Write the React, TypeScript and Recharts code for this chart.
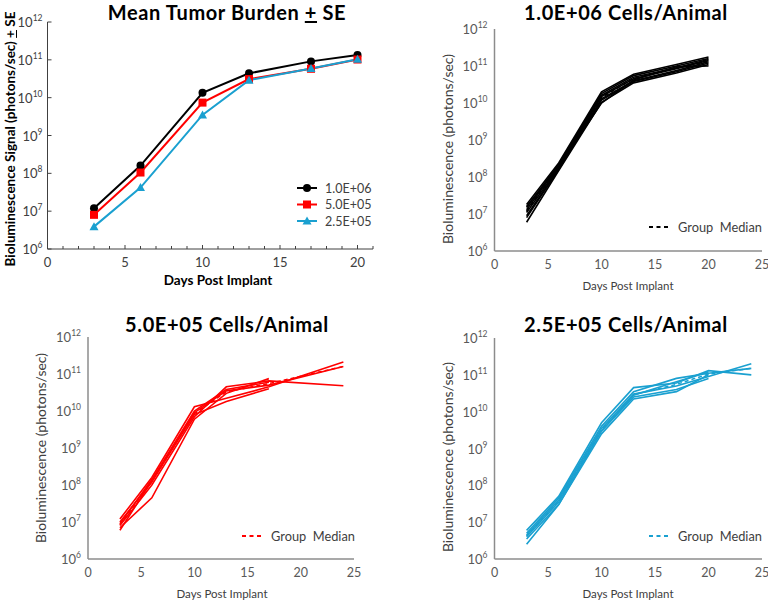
import React from 'react';
import { LineChart, Line, XAxis, YAxis, Legend } from 'recharts';

// mean tumor burden per dose group
const meanDays = [3, 6, 10, 13, 17, 20];
const mean1e6 = [1.2e7, 1.6e8, 1.35e10, 4.4e10, 9.1e10, 1.35e11];
const mean5e5 = [8.0e6, 1.05e8, 7.4e9, 3.1e10, 5.8e10, 1.02e11];
const mean25e4 = [3.9e6, 4.2e7, 3.5e9, 2.9e10, 5.9e10, 1.03e11];
const doseLabels = ['1.0E+06', '5.0E+05', '2.5E+05'];

// 1.0E+06 cells/animal, individual animals
const daysHigh = [3, 6, 10, 13, 17, 20];
const animalsHigh = [
  [1.8e7, 2.4e8, 2.0e10, 6.0e10, 1.1e11, 1.75e11],
  [1.5e7, 2.2e8, 1.8e10, 5.5e10, 1.0e11, 1.6e11],
  [1.3e7, 2.0e8, 1.6e10, 5.0e10, 9.0e10, 1.5e11],
  [1.1e7, 1.8e8, 1.5e10, 4.5e10, 8.5e10, 1.4e11],
  [9.0e6, 1.7e8, 1.3e10, 4.0e10, 7.5e10, 1.3e11],
  [8.0e6, 1.6e8, 1.2e10, 3.8e10, 7.0e10, 1.2e11],
  [6.0e6, 1.5e8, 1.05e10, 3.5e10, 6.5e10, 1.1e11],
  [1.6e7, 1.9e8, 1.0e10, 4.2e10, 9.5e10, 1.0e11],
];
const medianHigh = [1.2e7, 1.85e8, 1.4e10, 4.6e10, 8.8e10, 1.35e11];

// 5.0E+05 cells/animal
const daysMid = [3, 6, 10, 13, 17, 24];
const animalsMid = [
  [1.2e7, 1.6e8, 1.3e10, 2.2e10, 4.5e10, 2.1e11],
  [1.0e7, 1.2e8, 9.0e9, 3.5e10, 5.0e10, 1.6e11],
  [8.0e6, 1.0e8, 7.0e9, 4.5e10, 6.5e10, 4.8e10],
  [7.0e6, 4.5e7, 6.0e9, 3.0e10, 7.5e10, null],
  [6.0e6, 1.3e8, 8.0e9, 1.8e10, 4.0e10, null],
  [9.0e6, 1.4e8, 1.0e10, 3.8e10, 6.0e10, null],
];
const medianMid = [8.5e6, 1.25e8, 8.5e9, 3.3e10, 5.5e10, 1.6e11];

// 2.5E+05 cells/animal
const daysLow = [3, 6, 10, 13, 17, 20, 24];
const animalsLow = [
  [6.0e6, 5.0e7, 5.0e9, 4.5e10, 6.0e10, 1.3e11, 1.0e11],
  [5.0e6, 4.5e7, 4.0e9, 3.5e10, 8.0e10, 1.1e11, 1.5e11],
  [4.5e6, 4.0e7, 3.5e9, 3.0e10, 5.0e10, 9.0e10, 2.0e11],
  [4.0e6, 3.5e7, 3.0e9, 2.5e10, 4.0e10, 8.0e10, null],
  [3.5e6, 3.0e7, 2.5e9, 2.2e10, 3.5e10, 1.0e11, null],
  [2.5e6, 3.0e7, 3.0e9, 2.8e10, 6.5e10, 1.2e11, null],
];
const medianLow = [4.2e6, 3.7e7, 3.2e9, 2.9e10, 5.5e10, 1.05e11, 1.5e11];

const logTicks = [1e6, 1e7, 1e8, 1e9, 1e10, 1e11, 1e12];
const meanDayTicks = [0, 1, 2, 3, 4, 5, 6, 7, 8, 9, 10, 11, 12, 13, 14, 15, 16, 17, 18, 19, 20, 21];
const dayTicks = [0, 5, 10, 15, 20, 25];

const BLACK = '#000000';
const RED = '#ff0000';
const BLUE = '#1aa0d0';
const FONT = 'Lato, "Open Sans", sans-serif';

const Title = ({ x, y, children }: any) => (
  <div style={{ position: 'absolute', left: x, top: y, transform: 'translateX(-50%)', fontFamily: FONT, fontWeight: 700, fontSize: 20, lineHeight: '24px', letterSpacing: 0.6, whiteSpace: 'nowrap', color: '#000' }}>
    {children}
  </div>
);

const AxisText = ({ x, y, rotate, size, bold, children }: any) => (
  <div style={{ position: 'absolute', left: x, top: y, transform: `translate(-50%, -50%)${rotate ? ' rotate(-90deg)' : ''}`, fontFamily: FONT, fontWeight: bold ? 700 : 400, fontSize: size, whiteSpace: 'pre', color: bold ? '#000' : '#404040' }}>
    {children}
  </div>
);

const logTick = (gap: number, color: string, inner: boolean) => (props: any) => {
  const { x, y, payload } = props;
  const exp = Math.round(Math.log10(payload.value));
  return (
    <g>
      {inner && <line x1={x} x2={x + 4} y1={y} y2={y} stroke="#404040" />}
      <text x={x - gap} y={y + 5} textAnchor="end" fill={color} fontFamily={FONT} fontSize={13}>
        10<tspan dy={-6} fontSize={8.5}>{exp}</tspan>
      </text>
    </g>
  );
};

const dayTick = (color: string, size: number) => (props: any) => {
  const { x, y, payload } = props;
  return (
    <text x={x} y={y + 18} textAnchor="middle" fill={color} fontFamily={FONT} fontSize={size}>
      {payload.value}
    </text>
  );
};

const meanDayTick = (props: any) => {
  const { x, y, payload } = props;
  const major = payload.value % 5 === 0;
  return (
    <g>
      <line x1={x} x2={x} y1={y} y2={y - (major ? 4 : 3)} stroke="#404040" />
      {major && (
        <text x={x} y={y + 18} textAnchor="middle" fill="#404040" fontFamily={FONT} fontSize={13}>
          {payload.value}
        </text>
      )}
    </g>
  );
};

const MeanLegend = () => {
  const colors = [BLACK, RED, BLUE];
  return (
    <svg width={84} height={56}>
      {doseLabels.map((label, i) => {
        const cy = 8 + i * 16.5;
        const c = colors[i];
        return (
          <g key={label}>
            <line x1={0} x2={20} y1={cy} y2={cy} stroke={c} strokeWidth={2} />
            {i === 0 && <circle cx={10} cy={cy} r={4} fill={c} />}
            {i === 1 && <rect x={6} y={cy - 4} width={8} height={8} fill={c} />}
            {i === 2 && <polygon points={`10,${cy - 4.5} 14.5,${cy + 3.5} 5.5,${cy + 3.5}`} fill={c} />}
            <text x={28} y={cy + 4.5} fill="#404040" fontFamily={FONT} fontSize={12.5}>{label}</text>
          </g>
        );
      })}
    </svg>
  );
};

const MedianLegend = ({ color }: any) => (
  <svg width={124} height={18}>
    <line x1={0} x2={19} y1={9} y2={9} stroke={color} strokeWidth={2} strokeDasharray="4 3.5" />
    <text x={29} y={14} fill="#404040" fontFamily={FONT} fontSize={12.8} style={{ whiteSpace: 'pre' }}>
      Group  Median
    </text>
  </svg>
);

const meanData = meanDays.map((d, i) => ({ day: d, hi: mean1e6[i], mid: mean5e5[i], lo: mean25e4[i] }));

const buildRows = (days: number[], animals: (number | null)[][], median: number[]) =>
  days.map((d, i) => {
    const row: any = { day: d, median: median[i] };
    animals.forEach((a, j) => {
      row['a' + j] = a[i];
    });
    return row;
  });

const GroupPanel = ({ left, top, days, animals, median, color, margin, legendX, legendY }: any) => {
  const rows = buildRows(days, animals, median);
  return (
    <div style={{ position: 'absolute', left, top }}>
      <LineChart width={384} height={300} data={rows} margin={margin}>
        <XAxis
          dataKey="day"
          type="number"
          domain={[0, 25]}
          ticks={dayTicks}
          interval={0}
          height={40}
          tickSize={0}
          tickMargin={0}
          tickLine={false}
          tick={dayTick('#595959', 12.5)}
          axisLine={{ stroke: '#8c8c8c', strokeWidth: 1.5 }}
        />
        <YAxis
          type="number"
          scale="log"
          domain={[1e6, 1e12]}
          ticks={logTicks}
          interval={0}
          allowDataOverflow
          width={40}
          tickSize={0}
          tickMargin={0}
          tickLine={false}
          tick={logTick(7, '#595959', false)}
          axisLine={{ stroke: '#8c8c8c', strokeWidth: 1.5 }}
        />
        <Legend
          layout="horizontal"
          verticalAlign="middle"
          align="center"
          content={() => <MedianLegend color={color} />}
          wrapperStyle={{ left: legendX, top: legendY, width: 124, height: 18 }}
        />
        <Line dataKey="median" name="Group Median" stroke={color} strokeWidth={1.5} strokeDasharray="4 3" dot={false} isAnimationActive={false} connectNulls />
        {animals.map((_: any, j: number) => (
          <Line key={j} dataKey={'a' + j} stroke={color} strokeWidth={1.6} dot={false} isAnimationActive={false} connectNulls legendType="none" />
        ))}
      </LineChart>
    </div>
  );
};

export default function App() {
  return (
    <div style={{ position: 'absolute', left: 0, top: 0, width: 768, height: 600, background: '#fff', overflow: 'hidden' }}>
      {/* mean panel */}
      <div style={{ position: 'absolute', left: 0, top: 0 }}>
        <LineChart width={384} height={300} data={meanData} margin={{ left: 7.5, top: 22, right: 11, bottom: 11 }}>
          <XAxis
            dataKey="day"
            type="number"
            domain={[0, 21]}
            ticks={meanDayTicks}
            interval={0}
            height={40}
            tickSize={0}
            tickMargin={0}
            tickLine={false}
            tick={meanDayTick}
            axisLine={{ stroke: '#404040' }}
          />
          <YAxis
            type="number"
            scale="log"
            domain={[1e6, 1e12]}
            ticks={logTicks}
            interval={0}
            allowDataOverflow
            width={40}
            tickSize={0}
            tickMargin={0}
            tickLine={false}
            tick={logTick(5, '#404040', true)}
            axisLine={{ stroke: '#404040' }}
          />
          <Legend
            layout="horizontal"
            verticalAlign="middle"
            align="center"
            content={() => <MeanLegend />}
            wrapperStyle={{ left: 297, top: 180, width: 84, height: 56 }}
          />
          <Line dataKey="hi" stroke={BLACK} strokeWidth={2} dot={{ r: 4, fill: BLACK, stroke: BLACK, strokeWidth: 0 }} isAnimationActive={false} />
          <Line dataKey="mid" stroke={RED} strokeWidth={2} isAnimationActive={false}
            dot={(p: any) => <rect key={p.index} x={p.cx - 4} y={p.cy - 4} width={8} height={8} fill={RED} />} />
          <Line dataKey="lo" stroke={BLUE} strokeWidth={2} isAnimationActive={false}
            dot={(p: any) => <polygon key={p.index} points={`${p.cx},${p.cy - 4.5} ${p.cx + 4.5},${p.cy + 3.5} ${p.cx - 4.5},${p.cy + 3.5}`} fill={BLUE} />} />
        </LineChart>
      </div>
      <Title x={227} y={0}>
        Mean Tumor Burden <span style={{ textDecoration: 'underline' }}>+</span> SE
      </Title>
      <AxisText x={10} y={139} rotate size={13.5} bold>
        Bioluminescence Signal (photons/sec) <span style={{ textDecoration: 'underline' }}>+</span> SE
      </AxisText>
      <AxisText x={218} y={280} size={13.5} bold>Days Post Implant</AxisText>

      {/* 1.0E+06 */}
      <GroupPanel left={384} top={0} days={daysHigh} animals={animalsHigh} median={medianHigh} color={BLACK}
        margin={{ left: 70.5, top: 29, right: 6, bottom: 9 }} legendX={265} legendY={218} />
      <Title x={626} y={0}>1.0E+06 Cells/Animal</Title>
      <AxisText x={447} y={149} rotate size={14}>Bioluminescence (photons/sec)</AxisText>
      <AxisText x={628} y={285} size={11.5}>Days Post Implant</AxisText>

      {/* 5.0E+05 */}
      <GroupPanel left={0} top={300} days={daysMid} animals={animalsMid} median={medianMid} color={RED}
        margin={{ left: 48, top: 37, right: 30, bottom: 1 }} legendX={242} legendY={227} />
      <Title x={227} y={312}>5.0E+05 Cells/Animal</Title>
      <AxisText x={40} y={448} rotate size={14}>Bioluminescence (photons/sec)</AxisText>
      <AxisText x={222} y={593} size={11.5}>Days Post Implant</AxisText>

      {/* 2.5E+05 */}
      <GroupPanel left={384} top={300} days={daysLow} animals={animalsLow} median={medianLow} color={BLUE}
        margin={{ left: 70.5, top: 38, right: 6, bottom: 1 }} legendX={265} legendY={227} />
      <Title x={626} y={312}>2.5E+05 Cells/Animal</Title>
      <AxisText x={447} y={457} rotate size={14}>Bioluminescence (photons/sec)</AxisText>
      <AxisText x={628} y={593} size={11.5}>Days Post Implant</AxisText>
    </div>
  );
}
